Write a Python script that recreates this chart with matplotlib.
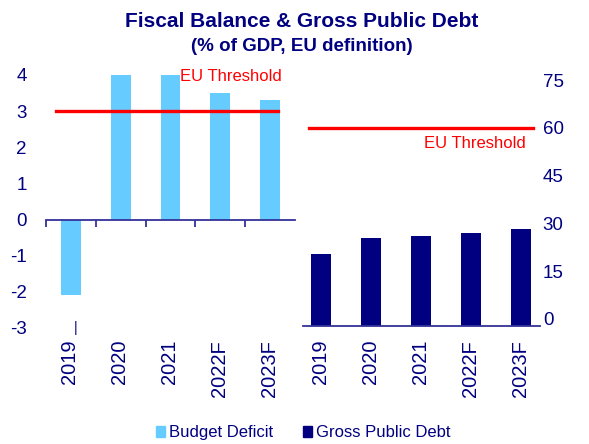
import matplotlib
matplotlib.use("Agg")
import matplotlib.pyplot as plt
import matplotlib.transforms as mtransforms
from matplotlib.patches import Patch
import numpy as np

plt.rcParams["font.family"] = ["Liberation Sans", "DejaVu Sans"]
plt.rcParams["axes.unicode_minus"] = False

# data
years = ["2019", "2020", "2021", "2022F", "2023F"]
budget_deficit = [-2.1, 4.0, 4.0, 3.5, 3.3]
gross_debt = [20.4, 25.5, 26.0, 27.0, 28.1]
deficit_limit = 3
debt_limit = 60

navy = "#000080"
light = "#66CCFF"
red = "#FF0000"
axis_col = "#333399"

fig = plt.figure(figsize=(5.89, 4.44), dpi=100)
x = np.arange(len(years))

# left panel: budget deficit
ax1 = fig.add_axes([0.0781, 0.2613, 0.4228, 0.5698])
ax1.bar(x, budget_deficit, width=0.4, color=light)
ax1.plot([-0.3, 4.15], [deficit_limit, deficit_limit], color=red, lw=2.4)
ax1.text(2.19, 3.96, "EU Threshold", color=red, fontsize=12, va="center", ha="left")
ax1.set_xlim(-0.5, 4.5)
ax1.set_ylim(-3, 4)
ax1.set_yticks(range(-3, 5))
for s in ["left", "right", "top"]:
    ax1.spines[s].set_visible(False)
ax1.spines["bottom"].set_position(("data", 0))
ax1.spines["bottom"].set_color(axis_col)
ax1.spines["bottom"].set_linewidth(1.3)
ax1.set_xticks(np.arange(-0.5, 4.0, 1.0))
ax1.set_xticklabels([])
ax1.tick_params(axis="x", direction="out", length=5, width=1.3, color=axis_col)
ax1.tick_params(axis="y", length=0, labelsize=13.5, labelcolor=navy, pad=14)
trans = mtransforms.blended_transform_factory(ax1.transData, ax1.transAxes)
for i, lab in enumerate(years):
    ax1.text(i - 0.02, -0.047, lab, transform=trans, rotation=90, ha="center", va="top",
             fontsize=14.5, color=navy)
ax1.text(0.1, -3.0, "|", color=navy, fontsize=10, ha="center", va="center", clip_on=False)

# right panel: gross public debt
debt_floor = -2.2
ax2 = fig.add_axes([0.5144, 0.2658, 0.4024, 0.554])
ax2.bar(x, np.array(gross_debt) - debt_floor, bottom=debt_floor, width=0.4, color=navy)
ax2.plot([-0.24, 4.24], [debt_limit, debt_limit], color=red, lw=2.4)
ax2.text(4.1, 55.1, "EU Threshold", color=red, fontsize=12, va="center", ha="right")
ax2.set_xlim(-0.36, 4.38)
ax2.set_ylim(debt_floor, 75)
ax2.set_yticks(range(0, 76, 15))
ax2.yaxis.tick_right()
for s in ["left", "right", "top"]:
    ax2.spines[s].set_visible(False)
ax2.spines["bottom"].set_color(axis_col)
ax2.spines["bottom"].set_linewidth(1.3)
ax2.set_xticks(x)
ax2.set_xticklabels(years, rotation=90, fontsize=14.5, color=navy)
ax2.tick_params(axis="x", length=0, pad=10)
ax2.tick_params(axis="y", length=0, labelsize=13.5, labelcolor=navy, pad=2)

# titles
fig.text(0.513, 0.952, "Fiscal Balance & Gross Public Debt", ha="center", va="center",
         fontsize=15, fontweight="bold", color=navy)
fig.text(0.512, 0.895, "(% of GDP, EU definition)", ha="center", va="center",
         fontsize=13.5, fontweight="bold", color=navy)

# legend
handles = [Patch(color=light, label="Budget Deficit"), Patch(color=navy, label="Gross Public Debt")]
fig.legend(handles=handles, loc="center", bbox_to_anchor=(0.515, 0.025), ncol=2, frameon=False,
           fontsize=12, handlelength=0.55, handleheight=0.55, handletextpad=0.25,
           columnspacing=1.8, labelcolor=navy)

fig.savefig("out.png", dpi=100)
